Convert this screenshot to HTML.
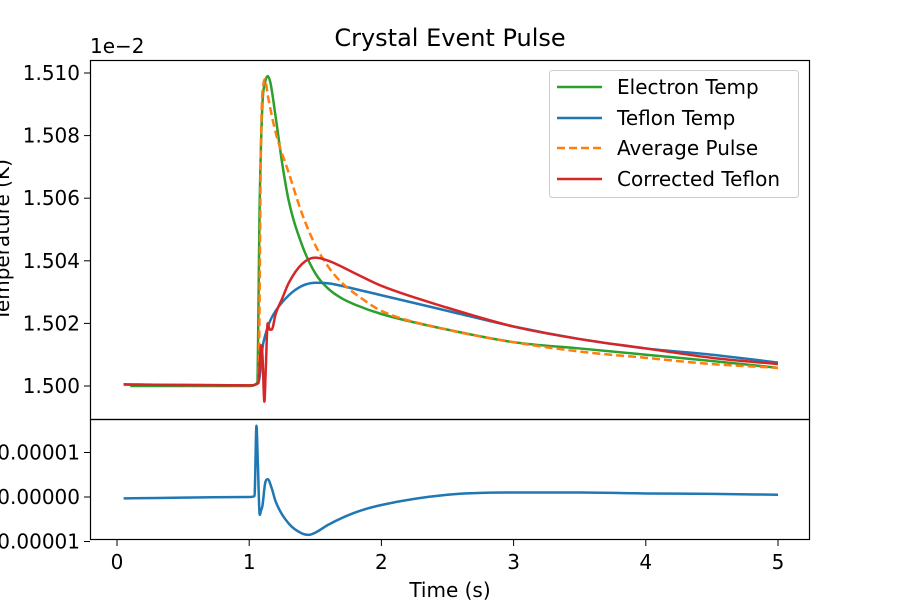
<!DOCTYPE html>
<html><head><meta charset="utf-8"><style>body{margin:0;background:#fff}svg{display:block;font-family:"DejaVu Sans","Liberation Sans",sans-serif}</style></head>
<body>
<svg id="c" width="900" height="600">
<rect width="900" height="600" fill="#fff"/>
<text x="450" y="46" font-size="24" text-anchor="middle">Crystal Event Pulse</text>
<text x="90" y="53" font-size="20">1e−2</text>
<text transform="translate(9,240) rotate(-90)" font-size="20" text-anchor="middle">Temperature (K)</text>
<text x="450" y="597" font-size="20" text-anchor="middle">Time (s)</text>
<g id="main"></g>
<g id="resid"></g>
<rect x="90.5" y="60.5" width="719" height="359" fill="none" stroke="#000" stroke-width="1.2"/>
<rect x="90.5" y="419.5" width="719" height="120" fill="none" stroke="#000" stroke-width="1.2"/>
<g>
<rect x="549.5" y="70.5" width="249" height="127" rx="3" fill="#fff" stroke="#ccc"/>
<line x1="557" y1="87" x2="602" y2="87" stroke="#2ca02c" stroke-width="2.5"/>
<text x="617" y="94" font-size="20">Electron Temp</text>
<line x1="557" y1="118" x2="602" y2="118" stroke="#1f77b4" stroke-width="2.5"/>
<text x="617" y="125" font-size="20">Teflon Temp</text>
<line x1="557" y1="148" x2="602" y2="148" stroke="#ff7f0e" stroke-width="2.5" stroke-dasharray="8,4"/>
<text x="617" y="155" font-size="20">Average Pulse</text>
<line x1="557" y1="179" x2="602" y2="179" stroke="#d62728" stroke-width="2.5"/>
<text x="617" y="186" font-size="20">Corrected Teflon</text>
</g>
</svg>
<script>
const xTicks=[0,1,2,3,4,5];
const yTicks=[1.500,1.502,1.504,1.506,1.508,1.510];
const rTicks=[-1,0,1];
const rTickLabels=["−0.00001","0.00000","0.00001"];
const electronT=[0.1,1.0,1.06,1.08,1.1,1.12,1.14,1.16,1.2,1.25,1.3,1.4,1.5,1.6,1.7,1.8,2.0,2.5,3.0,3.5,4.0,4.5,5.0];
const electronV=[1.5000,1.5000,1.5001,1.5060,1.5090,1.5097,1.5099,1.5097,1.5086,1.5071,1.5059,1.5045,1.5036,1.5031,1.5028,1.5026,1.5023,1.5018,1.5014,1.5012,1.5010,1.5008,1.50058];
const averageT=[0.05,1.0,1.07,1.09,1.11,1.12,1.14,1.2,1.3,1.4,1.5,1.6,1.7,1.85,2.0,2.5,3.0,3.5,4.0,4.5,5.0];
const averageV=[1.50005,1.50002,1.5001,1.5080,1.5097,1.5098,1.5093,1.5081,1.5068,1.5055,1.5045,1.5038,1.5033,1.5028,1.5024,1.5018,1.5014,1.5011,1.5009,1.5007,1.50058];
const teflonT=[0.05,1.0,1.07,1.09,1.1,1.12,1.15,1.2,1.3,1.4,1.5,1.6,1.8,2.0,2.5,3.0,3.5,4.0,4.5,5.0];
const teflonV=[1.50005,1.50002,1.5001,1.5007,1.5012,1.5016,1.5020,1.5024,1.5029,1.5032,1.5033,1.50328,1.5031,1.5029,1.5024,1.5019,1.5015,1.5012,1.5010,1.50075];
const correctedT=[0.05,1.0,1.07,1.09,1.1,1.115,1.125,1.14,1.155,1.17,1.2,1.25,1.3,1.4,1.5,1.6,1.8,2.0,2.5,3.0,3.5,4.0,4.5,5.0];
const correctedV=[1.50005,1.50002,1.5001,1.5013,1.5010,1.4995,1.5005,1.5020,1.5018,1.5018,1.5023,1.5028,1.5033,1.5039,1.5041,1.5040,1.5036,1.5032,1.5025,1.5019,1.5015,1.5012,1.5009,1.50070];
const residT=[0.05,1.0,1.04,1.055,1.065,1.08,1.09,1.1,1.12,1.14,1.17,1.2,1.3,1.4,1.45,1.5,1.6,1.8,2.0,2.5,3.0,3.5,4.0,4.5,5.0];
const residV=[-0.03,0.0,0.02,1.6,0.8,-0.4,-0.3,-0.2,0.3,0.4,0.2,-0.1,-0.6,-0.82,-0.85,-0.8,-0.62,-0.35,-0.18,0.05,0.1,0.1,0.08,0.07,0.05];
const NS="http://www.w3.org/2000/svg";
const sx=t=>117+t*132.2;
const sy=v=>386-(v-1.5)/0.002*62.6;
const sr=v=>497-v*44.5;
function mk(tag,attrs,parent){const e=document.createElementNS(NS,tag);for(const k in attrs)e.setAttribute(k,attrs[k]);parent.appendChild(e);return e;}
const main=document.getElementById('main');
const resid=document.getElementById('resid');
yTicks.forEach(v=>{const y=sy(v);
 const l=mk('line',{x1:84,x2:90,y1:y,y2:y,stroke:'#000'},main);
 
 
 const t=mk('text',{x:80,y:y+7,'font-size':20,'text-anchor':'end'},main);t.textContent=v.toFixed(3);
 
 });
rTicks.forEach((v,i)=>{const y=sr(v);
 const l=mk('line',{x1:84,x2:90,y1:y,y2:y,stroke:'#000'},resid);
 
 
 const t=mk('text',{x:80,y:y+7,'font-size':20,'text-anchor':'end'},resid);t.textContent=rTickLabels[i];
 
 });
xTicks.forEach(v=>{const x=sx(v);
 const l=mk('line',{x1:x,x2:x,y1:540,y2:546,stroke:'#000'},resid);
 
 
 const t=mk('text',{x:x,y:569,'font-size':20,'text-anchor':'middle'},resid);t.textContent=v;
 
 });
function smooth(pts){
 const n=pts.length,dx=[],m=[],s=[];
 for(let i=0;i<n-1;i++){dx[i]=pts[i+1][0]-pts[i][0];s[i]=(pts[i+1][1]-pts[i][1])/dx[i];}
 m[0]=s[0];m[n-1]=s[n-2];
 for(let i=1;i<n-1;i++){m[i]=(s[i-1]*s[i]<=0)?0:(s[i-1]+s[i])/2;}
 for(let i=0;i<n-1;i++){if(s[i]===0){m[i]=0;m[i+1]=0;continue;}
  const a=m[i]/s[i],b=m[i+1]/s[i],h=a*a+b*b;
  if(h>9){const t=3/Math.sqrt(h);m[i]=t*a*s[i];m[i+1]=t*b*s[i];}}
 let d='M'+pts[0][0]+','+pts[0][1];
 for(let i=0;i<n-1;i++){const h=dx[i]/3;
  d+=' C'+(pts[i][0]+h)+','+(pts[i][1]+m[i]*h)+' '+(pts[i+1][0]-h)+','+(pts[i+1][1]-m[i+1]*h)+' '+pts[i+1][0]+','+pts[i+1][1];}
 return d;}
function line(T,V,fy,color,name,parent,dash){
 const pts=T.map((t,i)=>[sx(t),fy(V[i])]);
 const p=mk('path',{d:smooth(pts),fill:'none',stroke:color,'stroke-width':2.5,'stroke-linejoin':'round'},parent);
 if(dash)p.setAttribute('stroke-dasharray',dash);
 
 }
line(electronT,electronV,sy,'#2ca02c','electron-temp-line',main);
line(teflonT,teflonV,sy,'#1f77b4','teflon-temp-line',main);
line(averageT,averageV,sy,'#ff7f0e','average-pulse-line',main,'8,4');
line(correctedT,correctedV,sy,'#d62728','corrected-teflon-line',main);
line(residT,residV,sr,'#1f77b4','residual-line',resid);
</script>
</body></html>
